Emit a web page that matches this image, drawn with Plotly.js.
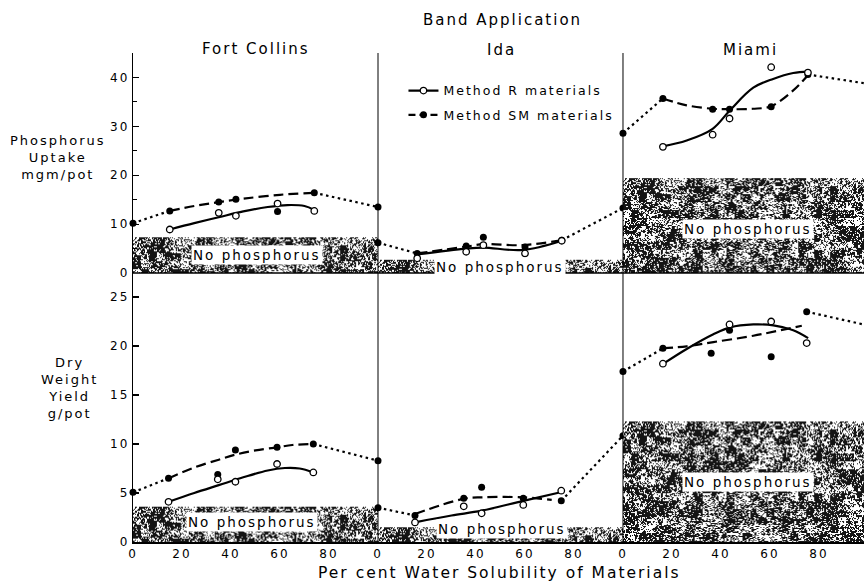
<!DOCTYPE html>
<html><head><meta charset="utf-8">
<script src="https://cdn.plot.ly/plotly-3.0.1.min.js"></script>
<style>
html,body{margin:0;padding:0;background:#fff;}
#chart{width:864px;height:584px;}
svg text{letter-spacing:2px;}
</style></head><body><div id="chart"></div>
<script>
const panelNames = ['Fort Collins', 'Ida', 'Miami'];
const tickValues = [0, 20, 40, 60, 80];
const tickLabels = ['0', '20', '40', '60', '80'];
const solubilityEnds = [0, 100];
const noPhosphorusSpan = [0, 100];

// ---- Phosphorus uptake, mgm/pot ----
const fcUptakeX = [15, 35, 42, 59, 74];
const fcUptakeR = [8.9, 12.3, 11.7, 14.2, 12.7];
const fcUptakeSM = [12.7, 14.5, 15.1, 12.6, 16.4];
const fcUptakeEnds = [10.2, 13.5];
const fcUptakeRFitX = [15, 25, 35, 45, 55, 63, 70, 74];
const fcUptakeRFitY = [8.9, 10.2, 11.4, 12.6, 13.5, 13.9, 13.7, 12.9];
const fcUptakeSMFitX = [15, 25, 35, 45, 60, 74];
const fcUptakeSMFitY = [12.7, 13.7, 14.5, 15.2, 16.0, 16.4];
const fcUptakeNoP = 7.3;

const idaUptakeX = [16, 36, 43, 60, 75];
const idaUptakeR = [3.0, 4.35, 5.7, 4.0, 6.6];
const idaUptakeSM = [4.0, 5.5, 7.3, 5.3, 6.7];
const idaUptakeEnds = [6.2, 13.3];
const idaUptakeRFitX = [16, 36, 43, 59, 75];
const idaUptakeRFitY = [3.8, 5.0, 5.2, 4.7, 6.6];
const idaUptakeSMFitX = [16, 36, 43, 59, 75];
const idaUptakeSMFitY = [4.0, 5.4, 5.9, 5.7, 6.7];
const idaUptakeNoP = 2.7;

const miUptakeX = [16.3, 36.6, 43.5, 60.5, 75.5];
const miUptakeR = [25.8, 28.3, 31.6, 42.1, 41.0];
const miUptakeSM = [35.7, 33.5, 33.5, 34.0, 40.6];
const miUptakeEnds = [28.6, 38.7];
const miUptakeRFitX = [16.3, 26, 36.6, 43.7, 53.2, 61.3, 69.5, 75.6];
const miUptakeRFitY = [25.9, 27.1, 29.5, 33.3, 37.9, 39.7, 40.9, 41.2];
const miUptakeSMFitX = [16.3, 26, 36.6, 43.7, 53, 60.4, 69.4, 75.6];
const miUptakeSMFitY = [35.7, 34.3, 33.6, 33.5, 33.6, 34.1, 37.3, 40.5];
const miUptakeNoP = 19.4;

// ---- Dry weight yield, g/pot ----
const fcYieldX = [14.5, 34.6, 41.8, 58.8, 73.6];
const fcYieldR = [4.1, 6.4, 6.15, 7.96, 7.1];
const fcYieldSM = [6.5, 6.9, 9.4, 9.66, 10.0];
const fcYieldEnds = [5.07, 8.3];
const fcYieldRFitX = [14.5, 25, 35, 45, 55, 62, 68, 73.6];
const fcYieldRFitY = [4.1, 5.0, 5.8, 6.6, 7.3, 7.55, 7.5, 7.1];
const fcYieldSMFitX = [14.5, 25, 35, 41.6, 50, 58.9, 65, 73.6];
const fcYieldSMFitY = [6.5, 7.6, 8.4, 8.9, 9.35, 9.66, 9.9, 10.0];
const fcYieldNoP = 3.6;

const idaYieldX = [15.1, 35, 42.3, 59.3, 74.8];
const idaYieldR = [2.0, 3.64, 2.93, 3.78, 5.24];
const idaYieldSM = [2.7, 4.46, 5.58, 4.46, 4.2];
const idaYieldEnds = [3.5, 10.85];
const idaYieldRFitX = [15.1, 30, 42.3, 59.3, 75];
const idaYieldRFitY = [2.0, 2.7, 3.2, 4.2, 5.1];
const idaYieldSMFitX = [15.1, 34.8, 42.3, 59.3, 70.9];
const idaYieldSMFitY = [2.86, 4.4, 4.56, 4.56, 4.3];
const idaYieldNoP = 1.5;

const miYieldX = [16.3, 36, 43.5, 60.5, 75];
const miYieldR = [18.2, null, 22.2, 22.5, 20.3];
const miYieldSM = [19.76, 19.25, 21.6, 18.9, 23.5];
const miYieldEnds = [17.4, 22.1];
const miYieldRFitX = [16.5, 26, 36.9, 43.7, 53.2, 61.4, 69.5, 75.6];
const miYieldRFitY = [18.2, 19.7, 21.2, 21.9, 22.2, 22.1, 21.6, 20.8];
const miYieldSMFitX = [16.2, 26, 36.9, 53.2, 73];
const miYieldSMFitY = [19.76, 19.97, 20.4, 21.05, 22.07];
const miYieldNoP = 12.3;

const panels = [
  {xa:'x',  ya:'y2', x:fcUptakeX, r:fcUptakeR, sm:fcUptakeSM, ends:fcUptakeEnds, rfx:fcUptakeRFitX, rfy:fcUptakeRFitY, sfx:fcUptakeSMFitX, sfy:fcUptakeSMFitY, noP:fcUptakeNoP},
  {xa:'x2', ya:'y2', x:idaUptakeX, r:idaUptakeR, sm:idaUptakeSM, ends:idaUptakeEnds, rfx:idaUptakeRFitX, rfy:idaUptakeRFitY, sfx:idaUptakeSMFitX, sfy:idaUptakeSMFitY, noP:idaUptakeNoP},
  {xa:'x3', ya:'y2', x:miUptakeX, r:miUptakeR, sm:miUptakeSM, ends:miUptakeEnds, rfx:miUptakeRFitX, rfy:miUptakeRFitY, sfx:miUptakeSMFitX, sfy:miUptakeSMFitY, noP:miUptakeNoP},
  {xa:'x',  ya:'y', x:fcYieldX, r:fcYieldR, sm:fcYieldSM, ends:fcYieldEnds, rfx:fcYieldRFitX, rfy:fcYieldRFitY, sfx:fcYieldSMFitX, sfy:fcYieldSMFitY, noP:fcYieldNoP},
  {xa:'x2', ya:'y', x:idaYieldX, r:idaYieldR, sm:idaYieldSM, ends:idaYieldEnds, rfx:idaYieldRFitX, rfy:idaYieldRFitY, sfx:idaYieldSMFitX, sfy:idaYieldSMFitY, noP:idaYieldNoP},
  {xa:'x3', ya:'y', x:miYieldX, r:miYieldR, sm:miYieldSM, ends:miYieldEnds, rfx:miYieldRFitX, rfy:miYieldRFitY, sfx:miYieldSMFitX, sfy:miYieldSMFitY, noP:miYieldNoP}
];

// speckled texture for the "No phosphorus" bands (deterministic integer hash grain)
function grain(x, y, seed) {
  let h = (Math.imul(x, 374761393) + Math.imul(y, 668265263) + Math.imul(seed, 144665)) | 0;
  h = Math.imul(h ^ (h >>> 13), 1274126177);
  h = h ^ (h >>> 16);
  return (h >>> 0) / 4294967296;
}
function speckleTexture(size) {
  const c = document.createElement('canvas');
  c.width = size; c.height = size;
  const ctx = c.getContext('2d');
  const img = ctx.createImageData(size, size);
  for (let y = 0; y < size; y++) {
    for (let x = 0; x < size; x++) {
      const v = 0.3 * grain(x >> 3, y >> 3, 7) + 0.3 * grain(x >> 1, y >> 1, 3) + 0.4 * grain(x, y, 1);
      const dark = v < 0.54;
      const i = (y * size + x) * 4;
      const c0 = dark ? 20 : 255;
      img.data[i] = c0; img.data[i + 1] = c0; img.data[i + 2] = c0; img.data[i + 3] = 255;
    }
  }
  ctx.putImageData(img, 0, 0);
  return c.toDataURL('image/png');
}
const texture = speckleTexture(246);

const LW = 2.2;
const filledMarker = {symbol:'circle', size:7, color:'#000'};
const openMarker = {symbol:'circle', size:6.5, color:'#fff', line:{color:'#000', width:1.3}};
const traces = [];

panels.forEach(p => {
  const n = p.sm.length - 1;
  traces.push({type:'scatter', xaxis:p.xa, yaxis:p.ya,
    x:[solubilityEnds[0], p.x[0], null, p.x[n], solubilityEnds[1]],
    y:[p.ends[0], p.sm[0], null, p.sm[n], p.ends[1]],
    mode:'lines', line:{color:'#000', width:LW, dash:'2.5px,3.5px'}, connectgaps:false, showlegend:false, hoverinfo:'skip'});
  traces.push({type:'scatter', xaxis:p.xa, yaxis:p.ya, x:p.sfx, y:p.sfy, mode:'lines',
    line:{color:'#000', width:LW, dash:'10px,5px', shape:'spline', smoothing:1}, showlegend:false, hoverinfo:'skip'});
  traces.push({type:'scatter', xaxis:p.xa, yaxis:p.ya, x:p.rfx, y:p.rfy, mode:'lines',
    line:{color:'#000', width:LW, shape:'spline', smoothing:1}, showlegend:false, hoverinfo:'skip'});
  traces.push({type:'scatter', xaxis:p.xa, yaxis:p.ya, x:solubilityEnds, y:p.ends, mode:'markers',
    marker:filledMarker, cliponaxis:false, showlegend:false});
  traces.push({type:'scatter', xaxis:p.xa, yaxis:p.ya, x:p.x, y:p.sm, mode:'markers',
    marker:filledMarker, cliponaxis:false, showlegend:false});
  traces.push({type:'scatter', xaxis:p.xa, yaxis:p.ya, x:p.x, y:p.r, mode:'markers',
    marker:openMarker, cliponaxis:false, showlegend:false});
});

traces.push({type:'scatter', xaxis:'x2', yaxis:'y2', x:[null], y:[null], mode:'lines+markers',
  name:'Method R materials', legendgroup:'r', line:{color:'#000', width:LW}, marker:openMarker});
traces.push({type:'scatter', xaxis:'x2', yaxis:'y2', x:[null], y:[null], mode:'lines+markers',
  name:'Method SM materials', legendgroup:'sm', line:{color:'#000', width:LW, dash:'7px,4px'}, marker:filledMarker});

const images = panels.map(p => ({
  source:texture, xref:p.xa, yref:p.ya,
  x:noPhosphorusSpan[0], y:p.noP, sizex:noPhosphorusSpan[1] - noPhosphorusSpan[0], sizey:p.noP,
  xanchor:'left', yanchor:'top', sizing:'fill', layer:'below'
}));

const D1 = 0.33516, D2 = 0.67031, YM = 0.5501;
const xBase = {showgrid:false, zeroline:false, showline:true, linecolor:'#000', linewidth:1.5,
  ticks:'', tickvals:tickValues, ticktext:tickLabels, tickfont:{size:12}, anchor:'y', fixedrange:true};
const yBase = {showgrid:false, zeroline:false, showline:true, linecolor:'#000', linewidth:1.2,
  ticks:'inside', ticklen:6, tickwidth:1.2, tickcolor:'#000', tickfont:{size:12}, anchor:'x', fixedrange:true, tick0:0};

const noPText = 'No phosphorus';
const noPLabels = [
  {xref:'x', yref:'y2', x:50.6, y:3.7}, {xref:'x2', yref:'y2', x:49.8, y:1.2}, {xref:'x3', yref:'y2', x:51, y:9},
  {xref:'x', yref:'y', x:48.6, y:2.0}, {xref:'x2', yref:'y', x:50.6, y:1.3}, {xref:'x3', yref:'y', x:51, y:6.1}
].map(a => Object.assign({text:noPText, showarrow:false, bgcolor:'#fff', borderpad:1, font:{size:13.5},
  xanchor:'center', yanchor:'middle'}, a));

const annotations = noPLabels.concat([
  {text:'Band Application', xref:'paper', yref:'paper', x:0.506, y:1, yshift:33, xanchor:'center', yanchor:'middle', showarrow:false, font:{size:15}},
  {text:panelNames[0], xref:'x', yref:'paper', x:50.2, y:1, yshift:4, xanchor:'center', yanchor:'middle', showarrow:false, font:{size:15}},
  {text:panelNames[1], xref:'x2', yref:'paper', x:50.6, y:1, yshift:3, xanchor:'center', yanchor:'middle', showarrow:false, font:{size:15}},
  {text:panelNames[2], xref:'x3', yref:'paper', x:52, y:1, yshift:3, xanchor:'center', yanchor:'middle', showarrow:false, font:{size:15}},
  {text:'Phosphorus<br>Uptake<br>mgm/pot', xref:'paper', yref:'paper', x:-0.1026, y:0.787, xanchor:'center', yanchor:'middle', showarrow:false, font:{size:13}, align:'center'},
  {text:'Dry<br>Weight<br>Yield<br>g/pot', xref:'paper', yref:'paper', x:-0.0862, y:0.314, xanchor:'center', yanchor:'middle', showarrow:false, font:{size:13}, align:'center'},
  {text:'Per cent Water Solubility of Materials', xref:'paper', yref:'paper', x:0.502, y:0, yshift:-31, xanchor:'center', yanchor:'middle', showarrow:false, font:{size:15.5}}
]);

const layout = {
  width:864, height:584, margin:{l:133, r:0, t:53, b:42, pad:0},
  paper_bgcolor:'#fff', plot_bgcolor:'rgba(0,0,0,0)',
  font:{family:'"DejaVu Sans", sans-serif', color:'#000', size:12},
  showlegend:true,
  legend:{x:0.37, y:0.953, xanchor:'left', yanchor:'top', bgcolor:'rgba(0,0,0,0)', font:{size:12.5}, itemwidth:30, tracegroupgap:5},
  xaxis:Object.assign({}, xBase, {domain:[0, D1], range:[0, 100]}),
  xaxis2:Object.assign({}, xBase, {domain:[D1, D2], range:[0, 100]}),
  xaxis3:Object.assign({}, xBase, {domain:[D2, 1], range:[0, 98.4]}),
  yaxis:Object.assign({}, yBase, {domain:[0, YM], range:[0, 27.45], dtick:5}),
  yaxis2:Object.assign({}, yBase, {domain:[YM, 1], range:[0, 45], dtick:10,
    minor:{dtick:5, ticks:'inside', ticklen:4, tickcolor:'#000', tickwidth:1.2, showgrid:false}}),
  images:images,
  shapes:[
    {type:'line', xref:'paper', yref:'paper', x0:D1, x1:D1, y0:0, y1:1, line:{color:'#000', width:1}},
    {type:'line', xref:'paper', yref:'paper', x0:D2, x1:D2, y0:0, y1:1, line:{color:'#000', width:1}},
    {type:'line', xref:'paper', yref:'paper', x0:0, x1:1, y0:YM, y1:YM, line:{color:'#000', width:1.5}}
  ],
  annotations:annotations
};

Plotly.newPlot('chart', traces, layout, {staticPlot:true, displayModeBar:false});
</script></body></html>
